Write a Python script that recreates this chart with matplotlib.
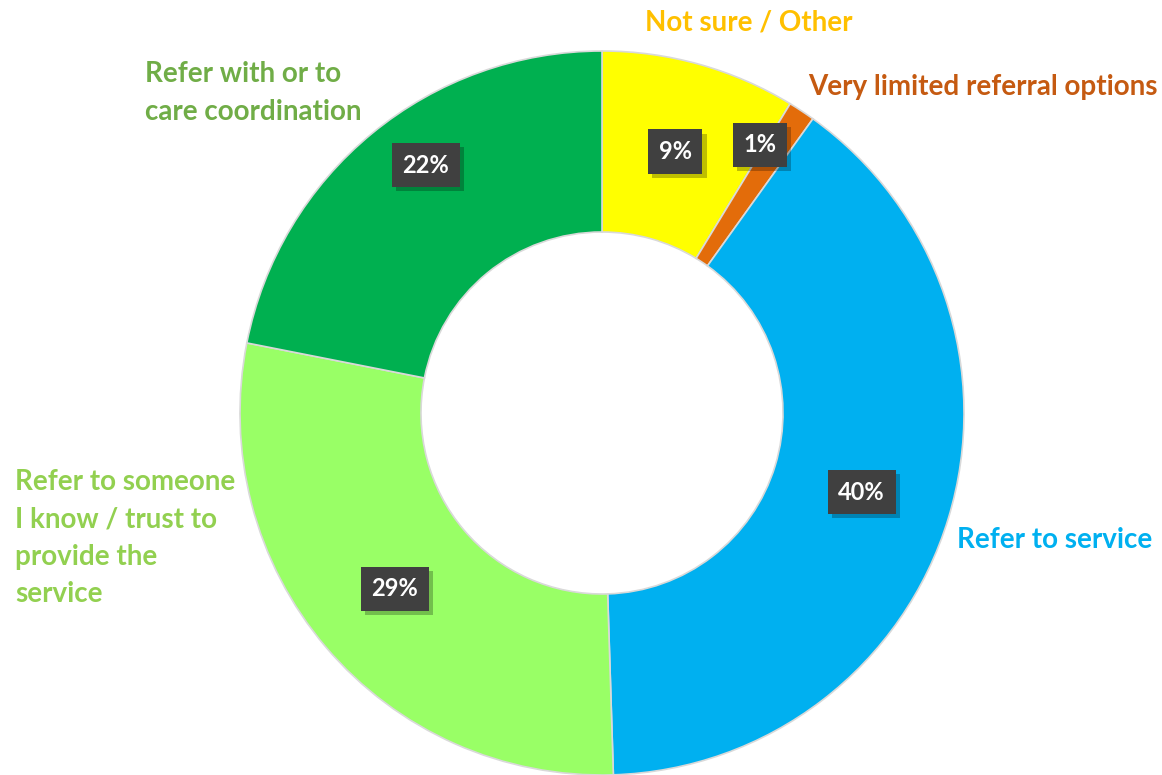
import matplotlib
matplotlib.use('Agg')
from matplotlib import pyplot as plt
import matplotlib.patheffects as pe
import numpy as np

# data (clockwise from the top)
categories = ['Not sure / Other', 'Very limited referral options', 'Refer to service',
              'Refer to someone\nI know / trust to\nprovide the\nservice',
              'Refer with or to\ncare coordination']
shares = [8.7, 1.2, 39.6, 28.6, 21.9]

colors = ['#FFFF00', '#E36C0A', '#00B0F0', '#99FF66', '#00B050']
text_colors = ['#FFC000', '#C55A11', '#00B0F0', '#92D050', '#70AD47']

plt.rcParams['font.family'] = ['Lato', 'DejaVu Sans']

W, H = 1162, 775
fig = plt.figure(figsize=(W / 100, H / 100), dpi=100)
ax = fig.add_axes([0, 0, 1, 1])

cx, cy, R = 602, H - 413, 362
wedges, _ = ax.pie(shares, colors=colors, startangle=90, counterclock=False,
                   center=(cx, cy), radius=R, frame=True,
                   wedgeprops=dict(width=R * 0.5, edgecolor='#D9D9D9', linewidth=1.2))
ax.set_xlim(0, W)
ax.set_ylim(0, H)
ax.set_aspect('equal')
ax.axis('off')

# percentage boxes at the ring middle
label_r = [0.75, 0.86, 0.75, 0.75, 0.84]
label_da = [0, 3, 0, 0, -4]
total = sum(shares)
for w, s, lr, da in zip(wedges, shares, label_r, label_da):
    ang = np.deg2rad((w.theta1 + w.theta2) / 2 + da)
    x = cx + R * lr * np.cos(ang)
    y = cy + R * lr * np.sin(ang)
    t = ax.text(x, y, f'{round(s / total * 100)}%', ha='center', va='center',
                color='white', fontsize=17, fontweight='bold',
                bbox=dict(boxstyle='square,pad=0.45', fc='#404040', ec='none'))
    t.get_bbox_patch().set_path_effects([
        pe.withSimplePatchShadow(offset=(3, -3), shadow_rgbFace='black', alpha=0.25),
        pe.Normal()])

# category labels
label_pos = [(645, 23), (808, 87), (957, 540), (15, 538), (145, 93)]
for cat, col, (px, py) in zip(categories, text_colors, label_pos):
    ax.text(px, H - py, cat, ha='left', va='center', color=col,
            fontsize=20, fontweight='bold', linespacing=1.55)

plt.savefig('out.png', dpi=100)
